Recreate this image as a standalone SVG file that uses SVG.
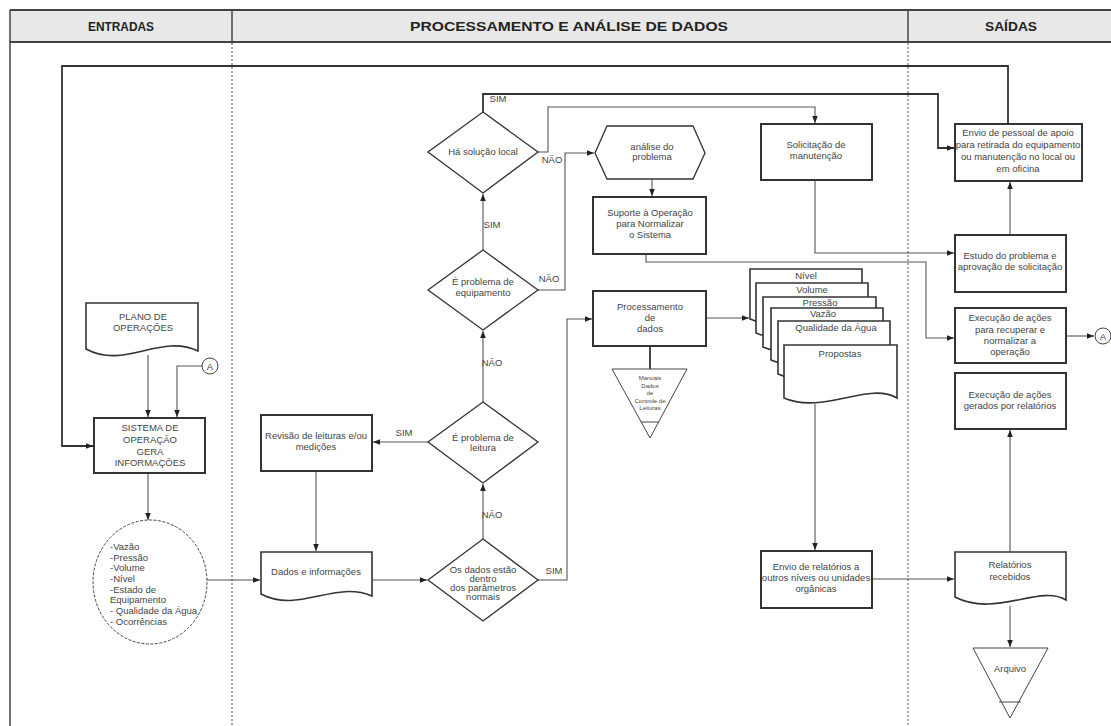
<svg xmlns="http://www.w3.org/2000/svg" width="1111" height="726" viewBox="0 0 1111 726">
  <defs>
    <marker id="arr" viewBox="0 0 10 10" refX="10" refY="5" markerWidth="7" markerHeight="7" markerUnits="userSpaceOnUse" orient="auto">
      <path d="M0,1 L10,5 L0,9 z" fill="#222"/>
    </marker>
    <style>
      .hd { font-family: "Liberation Sans", Arial, sans-serif; font-size: 13px; font-weight: bold; fill: #222; text-anchor: middle; }
      .t { font-family: "Liberation Sans", Arial, sans-serif; font-size: 9.5px; fill: #444; text-anchor: middle; }
      .tl { font-family: "Liberation Sans", Arial, sans-serif; font-size: 9.5px; fill: #444; text-anchor: start; }
      .ts { font-family: "Liberation Sans", Arial, sans-serif; font-size: 6px; fill: #444; text-anchor: middle; }
      .box { fill: #fff; stroke: #333; stroke-width: 2; }
      .doc { fill: #fff; stroke: #333; stroke-width: 1.6; }
      .dia { fill: #fff; stroke: #333; stroke-width: 1.3; }
      .thin { fill: #fff; stroke: #444; stroke-width: 1; }
      .ln { fill: none; stroke: #555; stroke-width: 1.1; }
      .lnd { fill: none; stroke: #333; stroke-width: 1.8; }
      .sep { fill: none; stroke: #555; stroke-width: 1; stroke-dasharray: 2 2; }
    </style>
  </defs>

  <rect width="1111" height="726" fill="#fff"/>

  <!-- swimlane header and frame -->
  <g id="lanes">
    <rect x="10" y="10" width="1110" height="32" fill="#e8e8e8"/>
    <line x1="10" y1="10" x2="1111" y2="10" stroke="#444" stroke-width="2"/>
    <line x1="10" y1="42" x2="1111" y2="42" stroke="#444" stroke-width="2"/>
    <line x1="10" y1="10" x2="10" y2="726" stroke="#444" stroke-width="1.5"/>
    <line x1="232" y1="10" x2="232" y2="42" stroke="#444" stroke-width="1.5"/>
    <line x1="908" y1="10" x2="908" y2="42" stroke="#444" stroke-width="1.5"/>
    <line class="sep" x1="232" y1="43" x2="232" y2="726"/>
    <line class="sep" x1="908" y1="43" x2="908" y2="726"/>
    <text class="hd" x="121" y="31" textLength="66" lengthAdjust="spacingAndGlyphs">ENTRADAS</text>
    <text class="hd" x="569" y="31" textLength="318" lengthAdjust="spacingAndGlyphs">PROCESSAMENTO E ANÁLISE DE DADOS</text>
    <text class="hd" x="1011" y="31" textLength="52" lengthAdjust="spacingAndGlyphs">SAÍDAS</text>
  </g>

  <!-- connectors -->
  <g id="connectors">
    <!-- outer loop to Sistema and to Envio de pessoal -->
    <polyline class="lnd" points="1008,124 1008,66 62,66 62,446 93,446" marker-end="url(#arr)"/>
    <!-- Plano -> Sistema -->
    <line class="ln" x1="148" y1="355" x2="148" y2="417" marker-end="url(#arr)"/>
    <!-- A -> Sistema -->
    <polyline class="ln" points="202,366 177,366 177,417" marker-end="url(#arr)"/>
    <!-- Sistema -> circle -->
    <line class="ln" x1="148" y1="474" x2="148" y2="520" marker-end="url(#arr)"/>
    <!-- circle -> Dados -->
    <line class="ln" x1="207" y1="580" x2="260" y2="580" marker-end="url(#arr)"/>
    <!-- Dados -> diamond -->
    <line class="ln" x1="372" y1="580" x2="427" y2="580" marker-end="url(#arr)"/>
    <!-- Revisão -> Dados -->
    <line class="ln" x1="316" y1="472" x2="316" y2="551" marker-end="url(#arr)"/>
    <!-- leitura -> Revisão (SIM) -->
    <line class="ln" x1="428" y1="442" x2="373" y2="442" marker-end="url(#arr)"/>
    <!-- dentro -> leitura (NÃO) -->
    <line class="ln" x1="483" y1="539" x2="483" y2="484" marker-end="url(#arr)"/>
    <!-- leitura -> equipamento (NÃO) -->
    <line class="ln" x1="483" y1="402" x2="483" y2="331" marker-end="url(#arr)"/>
    <!-- equipamento -> Há solução (SIM) -->
    <line class="ln" x1="483" y1="250" x2="483" y2="194" marker-end="url(#arr)"/>
    <!-- dentro -> Processamento (SIM) -->
    <polyline class="ln" points="538,580 567,580 567,319 592,319" marker-end="url(#arr)"/>
    <!-- equipamento -> análise (NÃO) -->
    <polyline class="ln" points="538,290 565,290 565,153 594,153" marker-end="url(#arr)"/>
    <!-- Há solução -> Solicitação (NÃO) -->
    <polyline class="ln" points="538,152 548,152 548,107 815,107 815,123" marker-end="url(#arr)"/>
    <!-- Há solução -> Envio de pessoal (SIM) -->
    <polyline class="lnd" points="483,112 483,94 938,94 938,148 954,148" marker-end="url(#arr)"/>
    <!-- análise -> Suporte -->
    <line class="ln" x1="652" y1="179" x2="652" y2="196" marker-end="url(#arr)"/>
    <!-- Suporte -> Execução recuperar -->
    <polyline class="ln" points="646,254 646,262 926,262 926,338 954,338" marker-end="url(#arr)"/>
    <!-- Solicitação -> Estudo -->
    <polyline class="ln" points="815,181 815,253 954,253" marker-end="url(#arr)"/>
    <!-- Estudo -> Envio de pessoal -->
    <line class="ln" x1="1010" y1="235" x2="1010" y2="182" marker-end="url(#arr)"/>
    <!-- Execução recuperar -> A -->
    <line class="ln" x1="1066" y1="336" x2="1094" y2="336" marker-end="url(#arr)"/>
    <!-- Processamento -> relatórios -->
    <line class="ln" x1="706" y1="318" x2="749" y2="318" marker-end="url(#arr)"/>
    <!-- Processamento -> arquivo -->
    <line class="lnd" x1="650" y1="346" x2="650" y2="369"/>
    <!-- Propostas -> Envio de relatórios -->
    <line class="ln" x1="815" y1="404" x2="815" y2="550" marker-end="url(#arr)"/>
    <!-- Envio de relatórios -> Relatórios recebidos -->
    <line class="ln" x1="872" y1="579" x2="954" y2="579" marker-end="url(#arr)"/>
    <!-- Relatórios recebidos -> Execução gerados -->
    <line class="ln" x1="1010" y1="552" x2="1010" y2="430" marker-end="url(#arr)"/>
    <!-- Relatórios recebidos -> Arquivo -->
    <line class="ln" x1="1010" y1="606" x2="1010" y2="647" marker-end="url(#arr)"/>

    <!-- branch labels -->
    <text class="t" x="498" y="102">SIM</text>
    <text class="t" x="552" y="163">NÃO</text>
    <text class="t" x="492" y="228">SIM</text>
    <text class="t" x="549" y="282">NÃO</text>
    <text class="t" x="492" y="366">NÃO</text>
    <text class="t" x="404" y="436">SIM</text>
    <text class="t" x="492" y="518">NÃO</text>
    <text class="t" x="554" y="574">SIM</text>
  </g>

  <!-- ENTRADAS -->
  <g id="plano">
    <path class="doc" d="M86,303 H198 V351 C160,333 125,370 86,349 Z"/>
    <text class="t" x="143" y="320">PLANO DE</text>
    <text class="t" x="143" y="331">OPERAÇÕES</text>
  </g>
  <g id="conector-a-entrada">
    <circle class="thin" cx="210" cy="366" r="8" stroke-width="1.5"/>
    <text class="t" x="210" y="369.5">A</text>
  </g>
  <g id="sistema">
    <rect class="box" x="94" y="418" width="111" height="55"/>
    <text class="t" x="150" y="431">SISTEMA DE</text>
    <text class="t" x="150" y="443">OPERAÇÃO</text>
    <text class="t" x="150" y="455">GERA</text>
    <text class="t" x="150" y="466">INFORMAÇÕES</text>
  </g>
  <g id="informacoes">
    <ellipse cx="150" cy="582" rx="57" ry="62" fill="#fff" stroke="#444" stroke-width="1" stroke-dasharray="3 1.5"/>
    <text class="tl" x="110" y="550">-Vazão</text>
    <text class="tl" x="110" y="561">-Pressão</text>
    <text class="tl" x="110" y="571">-Volume</text>
    <text class="tl" x="110" y="582">-Nível</text>
    <text class="tl" x="110" y="593">-Estado de</text>
    <text class="tl" x="110" y="603">Equipamento</text>
    <text class="tl" x="110" y="614">- Qualidade da Água</text>
    <text class="tl" x="110" y="625">- Ocorrências</text>
  </g>

  <!-- PROCESSAMENTO E ANÁLISE DE DADOS -->
  <g id="revisao">
    <rect class="box" x="261" y="415" width="111" height="56"/>
    <text class="t" x="316" y="439">Revisão de leituras e/ou</text>
    <text class="t" x="316" y="450">medições</text>
  </g>
  <g id="dados">
    <path class="doc" d="M261,552 H372 V596 C334,580 299,614 261,594 Z"/>
    <text class="t" x="316" y="575">Dados e informações</text>
  </g>
  <g id="dentro-parametros">
    <polygon class="dia" points="483,539 538,580 483,621 428,580"/>
    <text class="t" x="483" y="573">Os dados estão</text>
    <text class="t" x="483" y="582">dentro</text>
    <text class="t" x="483" y="591">dos parâmetros</text>
    <text class="t" x="483" y="600">normais</text>
  </g>
  <g id="problema-leitura">
    <polygon class="dia" points="483,402 538,442 483,483 428,442"/>
    <text class="t" x="483" y="441">É problema de</text>
    <text class="t" x="483" y="451">leitura</text>
  </g>
  <g id="problema-equipamento">
    <polygon class="dia" points="483,250 538,290 483,330 428,290"/>
    <text class="t" x="483" y="285">É problema de</text>
    <text class="t" x="483" y="296">equipamento</text>
  </g>
  <g id="solucao-local">
    <polygon class="dia" points="483,112 538,152 483,193 428,152"/>
    <text class="t" x="483" y="155">Há solução local</text>
  </g>
  <g id="analise">
    <polygon class="dia" points="595,153 607,126 693,126 705,153 693,179 607,179"/>
    <text class="t" x="652" y="150">análise do</text>
    <text class="t" x="652" y="160">problema</text>
  </g>
  <g id="suporte">
    <rect class="box" x="593" y="197" width="113" height="57"/>
    <text class="t" x="650" y="216">Suporte à Operação</text>
    <text class="t" x="650" y="227">para Normalizar</text>
    <text class="t" x="650" y="238">o Sistema</text>
  </g>
  <g id="solicitacao">
    <rect class="box" x="761" y="124" width="111" height="56"/>
    <text class="t" x="816" y="148">Solicitação de</text>
    <text class="t" x="816" y="159">manutenção</text>
  </g>
  <g id="processamento">
    <rect class="box" x="593" y="291" width="113" height="55"/>
    <text class="t" x="650" y="310">Processamento</text>
    <text class="t" x="650" y="321">de</text>
    <text class="t" x="650" y="332">dados</text>
  </g>
  <g id="arquivo-processamento">
    <polygon class="thin" points="612,369 687,369 650,438"/>
    <line x1="641" y1="422" x2="659" y2="422" stroke="#444" stroke-width="1"/>
    <text class="ts" x="650" y="380">Manuais</text>
    <text class="ts" x="650" y="388">Dados</text>
    <text class="ts" x="650" y="395">de</text>
    <text class="ts" x="650" y="403">Controle de</text>
    <text class="ts" x="650" y="410">Leituras</text>
  </g>
  <g id="relatorios">
    <path class="doc" d="M750,269 H862 V319 C834,302 789,336 750,319 Z"/>
    <text class="t" x="806" y="279">Nível</text>
    <path class="doc" d="M756,283 H868 V333 C840,316 795,350 756,333 Z"/>
    <text class="t" x="812" y="293">Volume</text>
    <path class="doc" d="M763,297 H876 V347 C848,330 802,364 763,347 Z"/>
    <text class="t" x="820" y="306">Pressão</text>
    <path class="doc" d="M771,308 H883 V360 C855,343 810,377 771,360 Z"/>
    <text class="t" x="823" y="317">Vazão</text>
    <path class="doc" d="M778,321 H890 V374 C862,357 817,391 778,374 Z"/>
    <text class="t" x="836" y="331">Qualidade da Água</text>
    <path class="doc" d="M784,345 H897 V398 C869,381 823,415 784,398 Z"/>
    <text class="t" x="840" y="357">Propostas</text>
  </g>
  <g id="envio-relatorios">
    <rect class="box" x="761" y="551" width="111" height="57"/>
    <text class="t" x="816" y="570">Envio de relatórios a</text>
    <text class="t" x="816" y="581">outros níveis ou unidades</text>
    <text class="t" x="816" y="592">orgânicas</text>
  </g>

  <!-- SAÍDAS -->
  <g id="envio-pessoal">
    <rect class="box" x="955" y="124" width="127" height="57"/>
    <text class="t" x="1018" y="136">Envio de pessoal de apoio</text>
    <text class="t" x="1018" y="148">para retirada do equipamento</text>
    <text class="t" x="1018" y="160">ou manutenção no local ou</text>
    <text class="t" x="1018" y="172">em oficina</text>
  </g>
  <g id="estudo">
    <rect class="box" x="955" y="235" width="111" height="57"/>
    <text class="t" x="1010" y="259">Estudo do problema e</text>
    <text class="t" x="1010" y="270">aprovação de solicitação</text>
  </g>
  <g id="execucao-recuperar">
    <rect class="box" x="955" y="308" width="111" height="55"/>
    <text class="t" x="1010" y="321">Execução de ações</text>
    <text class="t" x="1010" y="333">para recuperar e</text>
    <text class="t" x="1010" y="344">normalizar a</text>
    <text class="t" x="1010" y="355">operação</text>
  </g>
  <g id="conector-a-saida">
    <circle class="thin" cx="1103" cy="336" r="8" stroke-width="1.5"/>
    <text class="t" x="1103" y="339.5">A</text>
  </g>
  <g id="execucao-relatorios">
    <rect class="box" x="955" y="373" width="111" height="56"/>
    <text class="t" x="1010" y="398">Execução de ações</text>
    <text class="t" x="1010" y="409">gerados por relatórios</text>
  </g>
  <g id="relatorios-recebidos">
    <path class="doc" d="M955,552 H1066 V600 C1040,584 995,618 955,597 Z"/>
    <text class="t" x="1010" y="568">Relatórios</text>
    <text class="t" x="1010" y="580">recebidos</text>
  </g>
  <g id="arquivo">
    <polygon class="thin" points="973,648 1048,648 1010,718"/>
    <line x1="999" y1="702" x2="1021" y2="702" stroke="#444" stroke-width="1"/>
    <text class="t" x="1010" y="672">Arquivo</text>
  </g>
</svg>
